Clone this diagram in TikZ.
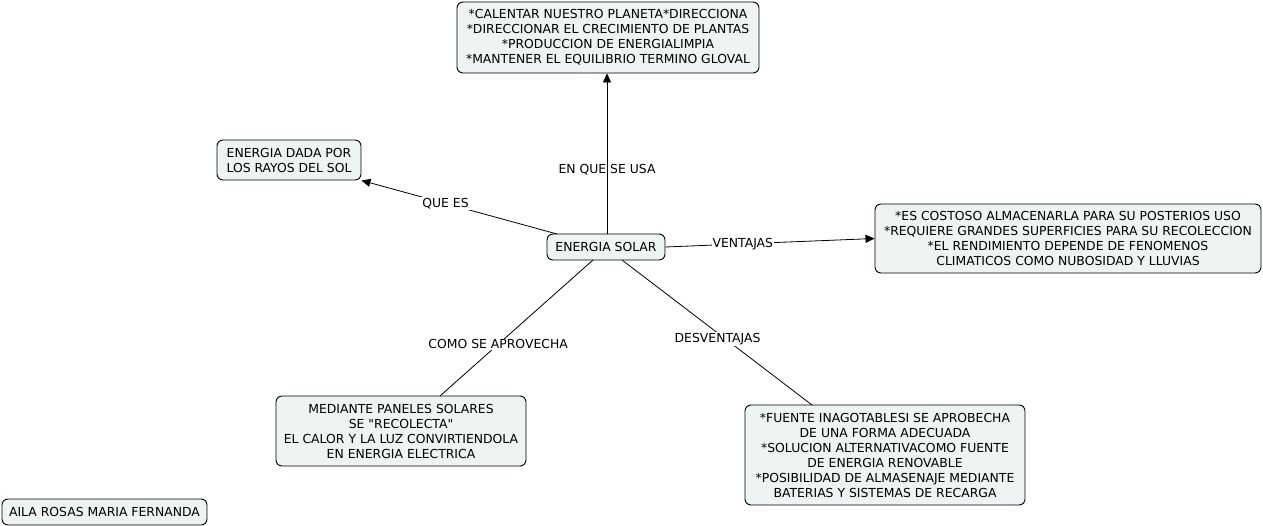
\documentclass[tikz,border=0pt]{standalone}
\usepackage{fontspec}
\setmainfont{DejaVu Sans}
\usetikzlibrary{arrows.meta}
\tikzset{
    concept/.style={draw, line width=0.9pt, rounded corners=6pt, fill=boxfill, align=center, inner sep=0pt,
        font=\fontsize{12.4}{15}\selectfont},
    lbl/.style={fill=white, inner sep=1pt, font=\fontsize{12.4}{15}\selectfont},
    tip/.style={-{Triangle[width=8pt,length=9pt]}}
}
\definecolor{boxfill}{HTML}{EEF3F4}
\begin{document}
\begin{tikzpicture}[x=1pt, y=-1pt, line width=0.8pt]
    \useasboundingbox (0, 0) rectangle (1263, 526);
    \node[concept, minimum width=302pt, minimum height=71pt] (uses) at (608, 37.5)
        {*CALENTAR NUESTRO PLANETA*DIRECCIONA\\*DIRECCIONAR EL CRECIMIENTO DE PLANTAS\\*PRODUCCION DE ENERGIALIMPIA\\*MANTENER EL EQUILIBRIO TERMINO GLOVAL};
    \node[concept, minimum width=144pt, minimum height=40pt] (what) at (289, 160)
        {ENERGIA DADA POR\\LOS RAYOS DEL SOL};
    \node[concept, minimum width=118pt, minimum height=26pt] (solar) at (606, 247) {ENERGIA SOLAR};
    \node[concept, minimum width=386pt, minimum height=69pt] (pros) at (1068, 238.5)
        {*ES COSTOSO ALMACENARLA PARA SU POSTERIOS USO\\*REQUIERE GRANDES SUPERFICIES PARA SU RECOLECCION\\*EL RENDIMIENTO DEPENDE DE FENOMENOS\\CLIMATICOS COMO NUBOSIDAD Y LLUVIAS};
    \node[concept, minimum width=250pt, minimum height=70pt] (how) at (401, 431)
        {MEDIANTE PANELES SOLARES\\SE \textquotedbl RECOLECTA\textquotedbl\\EL CALOR Y LA LUZ CONVIRTIENDOLA\\EN ENERGIA ELECTRICA};
    \node[concept, minimum width=280pt, minimum height=100pt] (cons) at (885, 455)
        {*FUENTE INAGOTABLESI SE APROBECHA\\DE UNA FORMA ADECUADA\\*SOLUCION ALTERNATIVACOMO FUENTE\\DE ENERGIA RENOVABLE\\*POSIBILIDAD DE ALMASENAJE MEDIANTE\\BATERIAS Y SISTEMAS DE RECARGA};
    \node[concept, minimum width=205pt, minimum height=26pt] (author) at (104.5, 512)
        {AILA ROSAS MARIA FERNANDA};

    % links from the centre
    \draw[tip] (solar.north) ++(1, 0) -- node[lbl, fill=none, pos=0.40] {EN QUE SE USA} (uses.south -| 607, 0);
    \draw[tip] (557, 234) -- node[lbl, pos=0.57] {QUE ES} (what.south east);
    \draw[tip] (solar.east) -- node[lbl, pos=0.37] {VENTAJAS} (pros.west);
    \draw (593, 260) -- node[lbl, pos=0.62] {COMO SE APROVECHA} (440, 396);
    \draw (622, 260) -- node[lbl, pos=0.545, xshift=-8pt] {DESVENTAJAS} (812, 405);
\end{tikzpicture}
\end{document}
